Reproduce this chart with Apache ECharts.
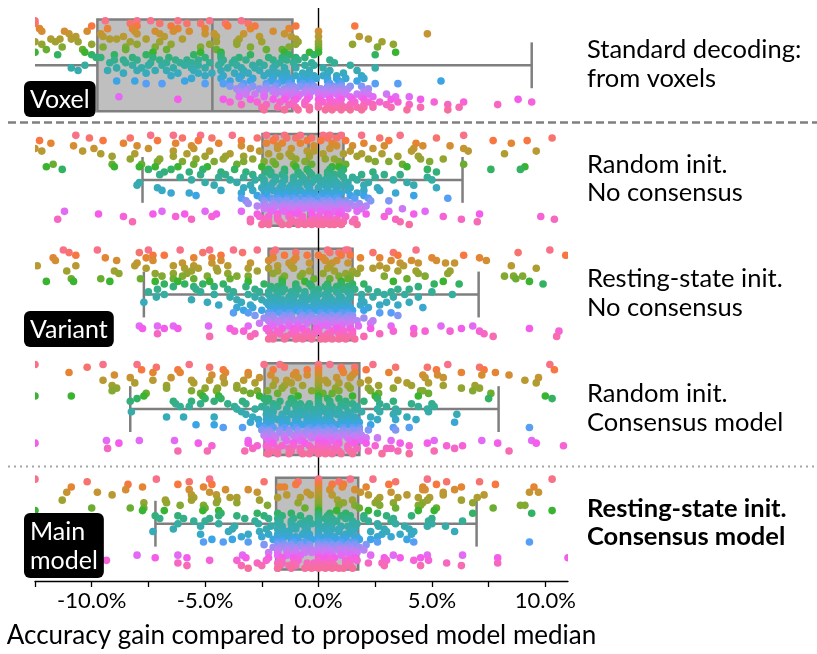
<!DOCTYPE html>
<html><head><meta charset="utf-8">
<script src="https://cdn.jsdelivr.net/npm/echarts@6/dist/echarts.min.js"></script>
<style>html,body{margin:0;padding:0;background:#fff}#c{width:817px;height:654px}</style>
</head><body><div id="c"></div>
<script>
// ---------------- DATA ----------------
const categories = ['Voxel', 'Random init. No consensus', 'Resting-state init. No consensus', 'Random init. Consensus model', 'Main model'];
const rightLabels = [['Standard decoding:', 'from voxels'], ['Random init.', 'No consensus'], ['Resting-state init.', 'No consensus'], ['Random init.', 'Consensus model'], ['Resting-state init.', 'Consensus model']];
const badges = [['Voxel'], ['Variant'], ['Main', 'model']];
const tickValues = [-12.5, -10, -7.5, -5, -2.5, 0, 2.5, 5, 7.5, 10];
const tickLabelValues = [-10, -5, 0, 5, 10];
// box statistics (whisker low, Q1, median, Q3, whisker high), in %
const boxLow = [-16, -7.76, -7.7, -8.3, -7.19];
const boxQ1 = [-9.75, -2.47, -2.2, -2.38, -1.87];
const boxMedian = [-4.68, -0.44, -0.26, -0.03, 0];
const boxQ3 = [-1.15, 1.1, 1.5, 1.8, 1.75];
const boxHigh = [9.4, 6.35, 7.06, 7.94, 6.97];
const nStudies = 35;

// per-study accuracy gains (%), study index = hue index (top to bottom)
const voxelPts = [
[-12.5,-8.0,-4.8,-3.4,-6.2,-9.4],
[-8.3,-5.2,-4.1,-3.1,-12.5,-7.0],
[-8.0,-4.0,-1.0,1.6,-6.5,-10.0],
[-9.3,-8.2,-6.2,-3.0,-1.3,-12.3],
[-12.2,-11.2,-10.2,-8.1,-7.2,-5.7,0.0,-2.0],
[-11.0,-9.6,-8.0,-7.0,-5.0,-4.6,4.8,-1.5],
[-10.7,-9.5,-8.6,-6.8,-4.5,-1.2,0.0,1.8],
[-11.8,-11.4,-10.9,-9.2,-8.9,-6.0,-3.5,-1.0,2.2],
[-12.5,-11.6,-10.6,-8.3,-7.0,-4.5,-2.5,-0.9,0.0,2.8],
[-12.2,-10.0,-8.0,-6.5,-3.6,-1.0,0.0,1.5,3.3],
[-11.3,-9.5,-7.2,-5.2,-3.0,-1.3,0.0,2.6],
[-12.0,-10.4,-8.5,-6.7,-4.5,-2.3,0.0],
[-12.5,-10.3,-5.2,-4.3,-1.5,0.0,-0.4,3.4],
[-11.5,-10.0,-9.0,-7.6,-5.5,-3.0,-1.3,-0.2,2.5],
[-9.8,-9.6,-8.2,-6.6,-5.0,-3.5,-2.2,-1.0,-0.6],
[-9.0,-8.0,-7.0,-6.3,-5.3,-4.2,-3.2,-2.0,-0.9,0.5],
[-8.5,-7.4,-6.1,-5.6,-4.8,-3.8,-2.6,-1.7,-0.3,0.7],
[-10.3,-8.2,-6.9,-5.9,-4.4,-3.6,-2.9,-1.9,-0.6,1.4],
[-10.9,-7.8,-6.4,-5.0,-4.0,-2.8,-2.0,-1.0,0.2,2.5],
[-10.6,-8.0,-6.7,-5.5,-3.3,-2.6,-1.5,-0.4,0.5,1.7],
[-8.6,-6.2,-4.7,-3.1,-2.2,-1.4,-0.7,0.4,1.1],
[-5.0,-3.4,-2.4,-1.6,-1.0,-0.5,0.2,0.8,1.9],
[-4.3,-2.9,-2.0,-1.3,-0.7,-0.1,0.4,1.2,2.0],
[-8.9,-8.1,-5.9,-3.9,-2.1,-1.2,-0.4,0.4,1.7,5.4],
[-7.6,-6.9,-5.0,-4.2,-2.3,-1.3,-0.7,0.5,2.5,3.5],
[-3.9,-2.9,-1.9,-1.3,-0.8,-0.2,0.4,1.0,1.9],
[-3.6,-2.6,-2.0,-1.5,-1.0,-0.5,0.1,0.7,1.3,2.2],
[-3.2,-2.4,-1.7,-1.1,-0.6,0.0,0.6,1.2,2.0],
[-2.8,-1.9,-1.2,-0.5,0.3,1.2,1.7,2.2,3.0],
[-8.8,-3.5,-1.4,-0.4,0.5,1.4,2.4,3.4,4.0],
[-6.2,-4.2,-2.0,-1.0,0.0,1.0,2.0,3.2,4.5,8.8],
[-3.9,-1.7,-0.6,0.2,1.6,2.7,3.5,5.1,6.4,9.4],
[-3.4,-1.3,0.0,0.5,1.4,2.4,3.0,4.0,5.7,7.9],
[-2.5,-1.0,0.0,0.4,0.8,1.7,2.4,3.2,4.5,6.2],
[-1.5,-0.4,0.3,1.0,1.9,3.9,5.7]
];
// additional readings in the dense (overlapping) region of each row
const voxelInner = [
[-7.4],[-5.8],[-2.8],[-5.0],[-6.4],[-3.3],[-2.6],[-7.6],[-3.6],[-4.8],
[-8.5],[-1.6],[-7.3],[-4.3],[-7.3,-4.3,-1.6],[-8.6,-5.8,-3.7,-1.4],[-9.2,-6.7,-4.3,-1.1],[-7.5,-5.3,-2.4,-0.2],
[-8.9,-5.6,-3.4,-1.5],[-9.3,-7.2,-4.3,-2.0],[-7.6,-5.3,-3.7,-1.8],[-6.5,-4.2,-2.0,-0.2],[-5.6,-3.5,-1.6,0.8],[-3.0,-1.6,-0.8,0.9],
[-3.3,-1.8,-0.3,1.0],[-3.4,-2.3,-1.1,-0.5,0.7,1.4],[-3.1,-2.3,-1.2,-0.2,0.4,1.0],[-3.5,-2.0,-1.4,-0.3,0.3,0.9],[-3.2,-2.4,-1.5,-0.8,0.0,0.8],
[-2.4,-0.9,0.1,0.9,1.9],[-3.0,-1.5,-0.5,0.5,1.5],[-2.7,-1.1,0.7,2.2],[-2.3,-0.6,1.0,2.0],[-1.8,-0.4,1.2,2.0],[-2.4,-0.9,0.6,1.4]
];
const randNoConsPts = [
[-10.7,-7.4,-6.4,-5.2,-3.8,-1.5,0.5,1.9,3.6,6.4],
[-10.1,-8.3,-6.0,-4.7,-2.7,-1.0,0.8,2.7,5.2,10.3],
[-12.3,-9.5,-7.1,-5.3,-3.4,-2.0,-0.5,1.2,3.1,7.7,9.2],
[-11.8,-8.6,-6.3,-4.4,-2.3,-0.8,0.6,2.0,4.3,8.5],
[-10.8,-8.0,-5.6,-3.4,-1.8,-0.2,1.5,2.9,4.6,5.8],
[-12.5,-9.9,-7.5,-5.5,-3.0,-1.2,0.5,2.4,4.2,6.4],
[-12.2,-10.4,-6.4,-4.8,-2.6,-0.5,1.4,4.1,6.6,9.6],
[-9.6,-8.1,-5.8,-3.9,-2.2,-1.3,0.2,1.9,2.8,8.2],
[-9.1,-6.4,-5.0,-4.1,-3.3,-1.7,-0.4,1.7,3.5,4.4],
[-8.3,-7.0,-5.4,-4.2,-2.9,-1.0,0.7,2.2,4.5,5.5],
[-7.1,-6.0,-4.6,-3.3,-2.0,-0.6,0.9,2.5,3.1,4.9],
[-11.7,-9.1,-7.8,-5.5,-3.6,-1.9,-0.3,1.2,3.7,6.4],
[-12.0,-9.0,-7.9,-7.2,-6.2,-4.9,-2.5,-1.0,0.6,3.9,9.1],
[-11.3,-7.5,-6.5,-5.1,-3.7,-2.2,-0.5,1.1,4.8,7.6,8.9],
[-6.8,-5.7,-4.3,-3.2,-2.1,-0.9,0.4,2.4,5.2],
[-7.0,-5.2,-4.1,-2.9,-1.6,-0.3,1.0,1.9,2.9,3.6],
[-6.1,-4.4,-3.3,-2.5,-1.5,-0.7,0.5,1.5,2.5,4.8],
[-5.6,-3.9,-2.8,-1.9,-1.1,-0.2,0.7,1.7,3.3,5.0],
[-7.9,-5.0,-3.6,-2.4,-1.6,-0.8,0.1,1.3,2.2,3.9],
[-8.0,-4.6,-3.0,-2.1,-1.2,-0.5,0.3,1.0,2.0,4.2],
[-7.1,-3.3,-2.5,-1.7,-0.9,0.0,0.8,1.4,2.6,5.2],
[-6.9,-4.3,-2.9,-2.0,-1.2,-0.4,0.4,1.3,2.0,2.7],
[-6.5,-5.7,-3.4,-2.3,-1.4,-0.6,0.2,1.0,1.7,3.4],
[-5.4,-2.7,-1.8,-1.1,-0.3,0.5,1.4,2.0,4.2],
[-3.4,-2.1,-1.4,-0.8,0.0,0.8,1.6,2.2,5.7],
[-3.2,-2.4,-1.7,-1.0,-0.3,0.5,1.2,2.3,3.1],
[-3.1,-2.0,-1.5,-0.8,-0.1,0.6,1.1,1.8],
[-2.7,-1.9,-1.3,-0.6,0.1,0.9,1.6,2.1],
[-2.4,-1.6,-1.0,-0.4,0.3,1.0,1.9,3.7],
[-11.2,-6.9,-5.0,-3.4,-1.5,-0.3,0.7,1.7,3.1,4.7],
[-9.7,-7.3,-5.9,-4.5,-2.7,-0.9,0.4,2.1,4.2,7.1],
[-8.6,-6.3,-4.7,-2.6,-1.3,0.0,1.2,2.9,5.5,9.8],
[-11.5,-5.6,-3.0,-1.8,-0.7,0.2,1.6,3.4,6.3,10.4],
[-8.2,-3.0,-2.2,-1.2,-0.4,0.2,0.8,1.5,3.6,7.0],
[-2.5,-1.6,-0.9,-0.3,0.2,0.7,1.7,4.0]
];
const randNoConsInner = [
[-2.3,-0.8,0.2,1.0],[-1.9,-0.3,0.4,-1.4],[0.1],[-1.6],[0.8],[-1.8],
[-0.2],[1.1],[-1.2],[0.3],[-2.4],[-1.1],
[0.9],[-1.5,0.5],[-2.3,-1.5,-0.4,1.0],[-2.1,-0.8,0.4,0.7],[-1.9,-1.1,0.0,1.1],[-2.4,-1.5,-0.6,0.3],
[-2.0,-0.3,0.5,0.8],[-1.6,-0.9,0.7,1.1],[-2.2,-1.3,-0.4,0.4],[-2.4,-1.6,-0.8,0.8],[-1.8,-1.0,0.6,-0.2],[-2.3,-1.5,-0.6,0.1,0.9],
[-2.5,-1.8,-1.1,-0.4,0.4],[-2.0,-1.4,-0.6,0.2,0.9],[-2.4,-1.2,-0.4,0.3,0.9,1.4],[-2.3,-1.6,-0.9,-0.2,0.5,1.2],[-2.0,-1.3,-0.7,0.0,0.6,1.3],
[-2.1,-0.9,0.1,1.0],[-1.8,-1.2,-0.3,0.9],[-2.2,-0.7,0.5,-1.8],[-2.4,-1.2,-0.3,0.8],[-1.7,-0.9,-0.1,0.5,1.1],[-2.2,-1.3,-0.6,0.0,0.5,1.0]
];
const restNoConsPts = [
[-11.25,-9.75,-7.5,-6.1,-4.8,-3.75,-2.7,1.3,4.3,10.2],
[-11.0,-7.9,-5.1,-3.35,-2.0,0.5,2.4,3.3,8.8],
[-10.7,-7.3,-6.8,-4.3,-1.5,0.0,1.0,3.5,6.4,10.9],
[-11.7,-9.4,-7.6,-5.5,-4.7,-1.0,1.85,2.7,5.0,7.1],
[-11.6,-8.9,-7.3,-4.3,-2.2,0.3,3.2,4.1,5.2,7.4],
[-8.0,-6.0,-4.7,-3.0,-1.3,0.6,3.6,4.4,5.6,6.0],
[-12.4,-10.7,-8.1,-6.4,-5.5,-4.0,-1.8,2.7,3.75,8.5],
[-7.6,-5.9,-5.3,-4.5,-3.1,-1.1,1.85,2.4,3.0,9.6],
[-11.1,-9.0,-5.6,-4.45,-2.7,-0.4,1.5,3.5,4.3,5.8],
[-8.8,-7.2,-6.4,-5.8,-4.0,-2.0,0.2,1.7,4.4,5.7],
[-6.9,-6.0,-4.9,-3.6,-3.1,-0.8,0.9,2.9,4.7,8.2,8.6,9.0],
[-10.9,-9.6,-7.85,-6.4,-5.5,-3.9,-1.6,0.5,3.9,8.7],
[-12.0,-10.8,-9.2,-7.2,-6.2,-4.8,-3.1,-0.6,3.3,5.5,9.3],
[-6.8,-5.9,-5.1,-4.2,-2.4,-1.0,1.0,2.0,5.1,6.2,9.9],
[-6.4,-5.5,-4.6,-3.2,-1.8,-0.3,1.3,4.4],
[-7.1,-5.4,-4.0,-2.8,-1.5,0.0,1.6,2.2,3.5,4.0],
[-7.5,-5.2,-3.75,-2.6,-1.2,-0.2,0.8,2.6,3.2,5.0],
[-6.8,-4.6,-3.1,-2.2,-1.0,0.3,1.9,2.9,3.8,5.9],
[-7.15,-3.9,-2.8,-1.9,-0.7,0.5,1.4,2.4,3.3,4.4],
[-5.6,-3.6,-2.5,-1.6,-0.5,0.6,1.3,1.9],
[-7.7,-4.9,-3.4,-2.3,-1.3,-0.2,0.7,2.0,3.0,4.0],
[-4.4,-3.0,-2.0,-1.1,-0.1,0.9,1.85,2.7,3.5],
[-3.6,-2.9,-1.8,-0.9,0.1,1.0,2.2,4.6],
[-3.3,-2.5,-1.5,-0.6,0.3,1.2,2.0],
[-3.75,-3.1,-2.1,-1.3,-0.4,0.5,1.3,2.7,3.2],
[-2.8,-2.0,-1.2,-0.3,0.6,1.3,3.5],
[-2.4,-1.6,-0.8,0.0,0.8,1.5,2.0],
[-2.2,-1.4,-0.6,0.2,1.0,1.7,2.4],
[-2.6,-1.7,-0.9,-0.1,0.7,1.4,2.3],
[-7.9,-7.1,-6.4,-4.85,-3.1,-1.3,0.4,1.76,3.2,5.4,6.8],
[-7.76,-6.8,-6.2,-3.9,-2.3,-0.7,0.8,2.3,4.2,6.3,9.3],
[-3.7,-3.3,-2.2,-1.0,0.0,1.1,3.3,4.7,5.8,7.1,10.6],
[-7.1,-2.8,-1.7,-0.6,0.4,1.5,2.7,4.2,7.3],
[-4.8,-3.0,-1.4,-0.4,0.2,1.0,2.0,7.7,10.5],
[-2.0,-1.0,-0.3,0.3,0.9,1.6]
];
const restNoConsInner = [
[-1.9,0.4,1.2],[-1.0,0.9],[-0.5,1.4],[-2.0,0.2],[-1.1,0.8],[-0.4,1.3],
[-1.2,0.5],[-2.2,0.4],[-1.8,0.7],[-0.7,1.2],[-1.5,1.4],[-0.2,1.3],
[-1.6,1.0],[-1.6,-0.4,0.4,1.5],[-2.1,-1.0,0.3,0.8],[-1.9,-0.9,0.5,1.1],[-2.2,-1.6,-0.6,0.4,1.3],[-1.8,-0.6,0.0,0.9,1.4],
[-2.1,-1.3,-0.3,1.0],[-2.0,-1.1,-0.1,0.3,0.9],[-1.8,-0.8,0.2,1.2],[-2.2,-1.6,-0.6,0.4,1.3],[-2.1,-1.3,-0.4,0.6,1.4],[-1.9,-1.0,-0.1,0.8,1.5],
[-2.2,-1.7,-0.8,0.1,1.0],[-2.2,-1.5,-0.7,0.2,0.9,1.5],[-2.0,-1.2,-0.4,0.4,1.2],[-1.8,-1.0,-0.2,0.6,1.4],[-2.1,-1.3,-0.5,0.3,1.1],
[-2.0,-0.9,0.1,1.0],[-1.6,-1.1,-0.1,1.4],[-1.8,-0.5,0.6,1.5],[-2.1,-1.2,-0.2,0.9],[-2.0,-0.9,-0.6,0.5,1.3],[-2.2,-1.5,-0.7,0.1,0.6,1.2]
];
const randConsPts = [
[-12.5,-9.5,-8.0,-5.7,-2.4,0.0,0.5,2.4,5.7,10.2],
[-10.2,-7.15,-4.8,-1.5,0.0,1.0,3.4,4.8,7.1],
[-7.8,-6.2,-4.2,-2.0,0.0,1.05,2.1,5.2,7.3,10.4],
[-11.0,-7.3,-6.1,-4.1,-3.1,-1.0,0.0,1.1,3.1,6.3,7.8],
[-9.0,-4.7,-3.1,-2.1,-0.5,0.0,1.5,4.6,5.25,7.2,8.4],
[-8.3,-6.5,-4.2,-2.6,-0.9,0.0,0.8,4.7,5.5,9.7],
[-9.5,-7.3,-5.6,-4.8,-3.3,-1.4,0.0,0.3,2.2,3.5,9.1],
[-8.1,-5.5,-4.15,-2.8,-1.2,0.0,0.9,1.85,3.9,4.85,9.6],
[-9.1,-6.7,-3.6,-2.0,-0.7,0.0,1.3,2.65,4.1,6.9,5.5],
[-8.9,-6.7,-5.0,-4.45,-3.6,-1.6,0.0,0.75,2.2,3.3,6.3,7.1],
[-9.1,-5.6,-4.5,-3.3,-2.7,-2.25,-0.3,0.0,0.9,2.3,4.5,4.6,6.8],
[-7.6,-5.2,-3.0,-1.8,0.0,0.2,2.65,4.85,7.6],
[-12.5,-10.9,-7.7,-5.1,-4.4,-2.6,-0.9,0.0,2.5,4.4,10.0],
[-8.0,-5.0,-4.3,-2.4,-1.2,0.0,0.4,2.6,7.5,10.3],
[-8.3,-6.4,-5.6,-4.6,-3.35,-1.7,0.0,2.0,3.3],
[-6.3,-5.2,-4.0,-3.2,-1.3,-0.4,0.0,1.0,2.7,4.1,5.0],
[-6.1,-5.7,-3.7,-2.5,-1.0,0.0,0.1,1.2,3.0,4.4,5.1],
[-3.6,-2.8,-2.0,-0.8,0.0,0.3,1.6,2.6,3.4,4.8],
[-8.25,-3.4,-2.2,-1.4,-0.6,0.0,0.6,1.9,2.7,3.5,4.85],
[-3.2,-2.3,-1.2,-0.3,0.0,0.8,1.4,3.3,6.1],
[-6.7,-5.95,-4.6,-2.9,-2.0,-0.9,0.0,1.2,2.3,3.9],
[-2.65,-1.8,-1.0,-0.2,0.0,0.5,1.3,2.6,3.4,4.3],
[-3.0,-2.2,-1.4,-0.5,0.0,0.2,1.1,1.8,6.0],
[-5.4,-4.6,-2.6,-1.6,-0.7,0.0,0.4,1.3,2.3],
[-4.2,-3.35,-2.4,-1.5,-0.4,0.0,0.6,1.5,3.3,4.0,9.3],
[-2.5,-1.7,-0.9,-0.1,0.0,0.7,1.5,2.2,3.4],
[-2.1,-1.3,-0.6,0.0,0.2,1.0,1.8],
[-2.4,-1.5,-0.8,0.0,0.8,1.6],
[-1.9,-1.0,-0.3,0.0,0.5,1.3,2.1,2.6],
[-9.35,-7.9,-6.35,-3.1,-1.4,0.0,0.1,1.9,3.2,5.1,7.2,9.4],
[-12.5,-8.8,-5.3,-3.1,-1.1,0.0,0.3,2.1,3.6,4.8,7.9,9.6],
[-4.7,-2.7,-1.6,-0.4,0.0,0.8,2.5,4.0,5.65,6.35,10.8],
[-9.3,-2.9,-1.8,-0.8,0.0,0.2,1.3,3.0,3.2,6.0],
[-6.2,-4.9,-3.25,-1.2,-0.3,0.0,0.4,2.2,3.5,5.1,8.4],
[-2.25,-1.8,-0.7,0.0,0.6,2.8,4.0]
];
const randConsInner = [
[-1.7],[1.6],[-0.5],[1.6],[-1.1],[1.4],
[-1.9],[0.4],[-1.5],[1.4],[-1.1],[0.6],
[1.5],[-2.2,0.9],[-2.3,-1.1,0.5,1.2],[-2.0,-0.8,0.5,1.5],[-1.8,-0.5,0.6,1.7],[-2.3,-1.4,-0.3,0.9,1.7],
[-2.0,-1.0,0.3,1.3],[-2.2,-1.6,-0.7,0.4,1.0],[-1.6,-0.5,0.5,1.6],[-2.3,-1.4,-0.5,0.3,1.0,1.7],[-2.1,-1.6,-0.9,0.6,1.4],[-2.3,-1.1,-0.2,0.8,1.7],
[-2.0,-1.0,0.3,1.1,1.8],[-2.2,-1.3,-0.5,0.4,1.1,1.8],[-2.3,-1.7,-0.9,-0.3,0.5,1.3],[-2.0,-1.1,-0.4,0.4,1.2,1.9],[-2.3,-1.5,-0.7,0.2,0.9,1.7],
[-2.2,-0.8,0.6,1.4],[-2.0,-0.6,0.9,1.6],[-2.3,-1.1,0.4,1.3],[-2.2,-1.3,-0.3,0.7,1.7],[-2.0,-0.8,0.9,1.4],[-2.2,-1.3,-0.4,0.3,1.0,1.5]
];
const mainPts = [
[-12.5,-7.15,-4.8,0,2.4,4.8,10.3],
[-10.2,-5.7,-2.4,0,0.9,3.4,5.65,7.1],
[-8.4,-6.2,-4.7,-1.0,0,1.1,3.1,5.2,7.8],
[-10.9,-7.76,-5.07,-1.5,0,1.05,2.1,4.6,6.3,9.5],
[-8.5,-5.7,-4.1,-3.1,0,0.5,4.6,4.7,6.0],
[-11.1,-9.75,-4.8,-2.7,0,1.85,3.2,5.5,9.3,9.7],
[-9.1,-5.6,-4.5,-1.4,0,-0.35,2.2,3.9,5.5,7.3],
[-5.5,-3.9,-3.6,-0.8,0,2.7,3.5,4.4,4.9,7.0],
[-11.3,-6.75,-5.6,-4.45,-2.6,0,0.84,2.6,4.8,6.3],
[-7.7,-6.7,-4.5,-3.6,0,1.1,2.5,3.3,4.6,6.8],
[-6.1,-5.07,-2.25,0,0.9,2.7,4.4,4.5,8.9,9.1],
[-10.0,-8.3,-7.7,-5.0,0,1.8,3.4,5.2,7.7],
[-12.5,-7.76,-6.8,-5.1,-4.4,0,2.2,4.4,5.1,10.3],
[-4.3,-2.7,-1.2,0,1.2,2.6,6.8,9.4],
[-7.2,-6.2,-4.4,-3.6,-2.4,0,1.0,2.0,3.0,4.1],
[-7.0,-5.95,-4.8,-3.25,-2.2,0,0.6,2.0,3.3,5.0],
[-5.5,-5.0,-2.8,-1.2,0,0.8,2.2,3.2,4.85,6.35],
[-6.2,-4.4,-2.65,-0.8,0,1.5,2.6,3.4,5.0],
[-5.2,-3.7,-2.1,-0.6,0,1.0,2.65,3.8,4.8,5.6],
[-6.4,-3.8,-2.3,-1.0,0,0.6,1.4,2.9,4.0],
[-7.3,-3.97,-2.6,-1.4,0,0.9,2.3,3.0,4.2,6.0],
[-5.2,-3.1,-2.2,-0.7,0,1.2,2.8,3.6,4.1],
[-3.4,-2.5,-1.5,0,0.7,1.6,2.6,3.2],
[-4.7,-3.8,-2.0,-0.9,0,0.8,1.8,2.3,3.9],
[-5.07,-4.2,-3.1,-1.6,0,0.5,1.4,2.6,4.2,9.3],
[-2.4,-1.5,-0.8,0,0.6,1.3,2.1],
[-2.0,-1.1,-0.4,0,0.4,1.1,1.8],
[-1.8,-1.0,-0.3,0,0.5,1.2,2.0],
[-2.2,-1.3,-0.6,0,0.3,1.0,1.6],
[-8.0,-6.2,-3.35,-1.4,0,1.0,2.3,3.3,4.8,6.35],
[-7.2,-5.8,-3.2,-2.2,0,0.7,2.9,3.6,4.5,7.9,11.0],
[-9.35,-4.8,-3.6,-2.3,0,1.4,3.0,4.2,4.85],
[-6.2,-2.7,-1.6,-0.5,0,0.6,2.2,2.8,5.65,7.9],
[-5.8,-3.4,-2.5,-1.0,0,0.4,1.3,2.9,4.5,6.3],
[-3.1,-1.8,-0.6,0,0.3,0.9,1.5]
];
const mainInner = [
[1.4],[-0.9],[0.6],[-1.7],[1.6],[-0.5],
[0.6],[-1.8],[1.5],[-0.9],[1.6],[-0.6],
[0.8],[-1.8,0.5],[-1.6,-0.8,0.4,1.4],[-1.8,-1.1,-0.4,0.3,1.2],[-1.7,-0.6,0.4,1.5],[-1.8,-1.2,-0.3,0.6,1.7],
[-1.6,-1.0,0.3,1.3],[-1.8,-1.2,-0.5,0.3,0.9,1.6],[-1.7,-0.6,0.4,1.5],[-1.8,-1.3,-0.4,0.5,1.3],[-1.8,-1.0,-0.5,0.3,1.1,1.7],[-1.6,-1.2,-0.3,0.4,1.2],
[-1.8,-1.1,-0.6,0.3,1.0,1.6],[-1.8,-1.2,-0.4,0.3,0.9,1.6],[-1.7,-1.4,-0.7,0.2,0.8,1.4],[-1.8,-1.4,-0.6,0.3,0.9,1.5],[-1.8,-1.0,-0.3,0.6,1.2,1.7],
[-1.8,-0.8,0.4,1.4],[-1.6,-1.1,0.3,1.6],[-1.7,-0.9,0.5,1.2,1.7],[-1.8,-1.1,-0.2,0.3,1.2],[-1.7,-1.3,-0.4,0.7,1.4],[-1.8,-1.2,-0.3,0.6,1.1]
];
const rowPoints = [voxelPts, randNoConsPts, restNoConsPts, randConsPts, mainPts];
const rowInner = [voxelInner, randNoConsInner, restNoConsInner, randConsInner, mainInner];

// ---------------- HUSL palette (seaborn husl_palette) ----------------
const M = [[3.2406,-1.5372,-0.4986],[-0.9689,1.8758,0.0415],[0.0557,-0.2040,1.0570]];
const refU = 0.19784, refV = 0.46834, labE = 0.008856, labK = 903.3;
function maxChroma(L, H) {
  const hr = H / 360 * 2 * Math.PI, sinH = Math.sin(hr), cosH = Math.cos(hr);
  const sub1 = Math.pow(L + 16, 3) / 1560896;
  const sub2 = sub1 > labE ? sub1 : L / labK;
  let res = Infinity;
  for (const [m1, m2, m3] of M) {
    const top = (0.99915 * m1 + 1.05122 * m2 + 1.14460 * m3) * sub2;
    const rb = 0.86330 * m3 - 0.17266 * m2;
    const lb = 0.12949 * m3 - 0.38848 * m1;
    const bottom = (rb * sinH + lb * cosH) * sub2;
    for (const t of [0, 1]) {
      const C = L * (top - 1.05122 * t) / (bottom + 0.17266 * sinH * t);
      if (C > 0 && C < res) res = C;
    }
  }
  return res;
}
function husl(H, S, L) {
  const C = maxChroma(L, H) / 100 * S;
  const hr = H / 360 * 2 * Math.PI;
  const U = Math.cos(hr) * C, V = Math.sin(hr) * C;
  const t = (L + 16) / 116;
  const Y = Math.pow(t, 3) > labE ? Math.pow(t, 3) : (116 * t - 16) / labK;
  const vu = U / (13 * L) + refU, vv = V / (13 * L) + refV;
  const X = 0 - (9 * Y * vu) / ((vu - 4) * vv - vu * vv);
  const Z = (9 * Y - 15 * vv * Y - vv * X) / (3 * vv);
  const fl = c => c <= 0.0031308 ? 12.92 * c : 1.055 * Math.pow(c, 1 / 2.4) - 0.055;
  const rgb = M.map(r => Math.round(255 * Math.min(1, Math.max(0, fl(r[0] * X + r[1] * Y + r[2] * Z)))));
  return 'rgb(' + rgb.join(',') + ')';
}
const palette = [];
for (let i = 0; i < nStudies; i++) {
  const h = ((i / nStudies + 0.01) % 1) * 359;
  palette.push(husl(h, 0.9 * 99, 0.65 * 99));
}

// ---------------- build series data ----------------
const pointData = [];
rowPoints.forEach((row, r) => row.forEach((vals, s) => vals.concat(rowInner[r][s]).forEach(v => pointData.push([v, r, s]))));
const boxData = categories.map((c, i) => [i, boxLow[i], boxQ1[i], boxMedian[i], boxQ3[i], boxHigh[i]]);

const FONT = 'Lato, "Liberation Sans", sans-serif';
const chart = echarts.init(document.getElementById('c'), null, { renderer: 'canvas' });
const BOX_HALF = 0.4, CAP_HALF = 0.2;
const boxColor = '#bfbfbf', edgeColor = '#7f7f7f';

chart.setOption({
  animation: false,
  backgroundColor: '#fff',
  grid: { left: 35, right: 249, top: 8, bottom: 69, containLabel: false },
  xAxis: {
    type: 'value', min: -12.5, max: 11, interval: 2.5,
    axisLine: { show: true, onZero: false, lineStyle: { color: '#000', width: 1.3 } },
    axisTick: { show: true, length: 6, customValues: tickValues, lineStyle: { color: '#000', width: 1.3 } },
    axisLabel: { customValues: tickLabelValues, formatter: v => v.toFixed(1) + '%', fontSize: 22, color: '#000', fontFamily: FONT, margin: 9 },
    splitLine: { show: false },
    name: 'Accuracy gain compared to proposed model median', nameLocation: 'middle', nameGap: 42,
    nameTextStyle: { fontSize: 26, color: '#000', fontFamily: FONT }
  },
  yAxis: { type: 'value', min: -0.5, max: 4.5, inverse: true, show: false },
  series: [
    {
      type: 'custom', z: 1, clip: true, data: boxData,
      renderItem: (params, api) => {
        const r = api.value(0);
        const lo = api.value(1), q1 = api.value(2), md = api.value(3), q3 = api.value(4), hi = api.value(5);
        const p = (x, y) => api.coord([x, y]);
        const ls = { stroke: edgeColor, lineWidth: 2.5, fill: null };
        const a = p(q1, r - BOX_HALF), b = p(q3, r + BOX_HALF);
        const line = (x1, y1, x2, y2) => { const s = p(x1, y1), e = p(x2, y2); return { type: 'line', shape: { x1: s[0], y1: s[1], x2: e[0], y2: e[1] }, style: ls }; };
        return { type: 'group', children: [
          line(lo, r, q1, r), line(q3, r, hi, r),
          line(lo, r - CAP_HALF, lo, r + CAP_HALF), line(hi, r - CAP_HALF, hi, r + CAP_HALF),
          { type: 'rect', shape: { x: a[0], y: a[1], width: b[0] - a[0], height: b[1] - a[1] }, style: { fill: boxColor, stroke: edgeColor, lineWidth: 2.5 } },
          line(md, r - BOX_HALF, md, r + BOX_HALF)
        ] };
      }
    },
    {
      type: 'line', z: 2, symbol: 'none', silent: true, data: [[0, -0.5], [0, 4.5]],
      lineStyle: { color: '#000', width: 1.4 }
    },
    {
      type: 'custom', z: 3, clip: true, data: pointData,
      renderItem: (params, api) => {
        const v = api.value(0), r = api.value(1), s = api.value(2);
        const y = r - BOX_HALF + (s + 0.5) * (2 * BOX_HALF) / nStudies;
        const c = api.coord([v, y]);
        return { type: 'circle', shape: { cx: c[0], cy: c[1], r: 3.8 }, style: { fill: palette[s] } };
      }
    }
  ]
});

// decorations: separators, right labels, badges
const yPix = v => chart.convertToPixel({ yAxisIndex: 0 }, v);
const graphics = [];
const sep1 = yPix(0.5), sep2 = yPix(3.5);
graphics.push({ type: 'line', z: 0, shape: { x1: 8, y1: sep1, x2: 817, y2: sep1 }, style: { stroke: '#808080', lineWidth: 2.5, lineDash: [8, 4] } });
graphics.push({ type: 'line', z: 0, shape: { x1: 8, y1: sep2, x2: 817, y2: sep2 }, style: { stroke: '#a6a6a6', lineWidth: 2, lineDash: [2, 4] } });
rightLabels.forEach((lines, i) => {
  graphics.push({ type: 'text', x: 587, y: yPix(i) - 1, z: 10, style: {
    text: lines.join('\n'), fill: '#000', font: (i === 4 ? 'bold ' : '') + '25.5px ' + FONT,
    lineHeight: 28.5, verticalAlign: 'middle', align: 'left' } });
});
const badgeTops = [81, 311, 513];
badges.forEach((lines, i) => {
  graphics.push({ type: 'text', x: 24, y: badgeTops[i], z: 10, style: {
    text: lines.join('\n'), fill: '#fff', font: '25px ' + FONT, lineHeight: 29,
    backgroundColor: '#000', borderRadius: 6, padding: [4, 6, 3, 6], align: 'left', verticalAlign: 'top' } });
});
chart.setOption({ graphic: graphics });
</script>
</body></html>
